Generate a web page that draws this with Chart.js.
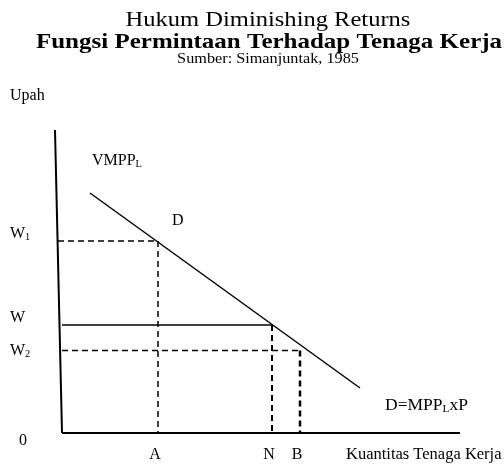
<!DOCTYPE html>
<html>
<head>
<meta charset="utf-8">
<script src="https://cdn.jsdelivr.net/npm/chart.js@4.4.1/dist/chart.umd.min.js"></script>
<style>
  html, body { margin: 0; padding: 0; background: #fff; }
  canvas { display: block; }
</style>
</head>
<body>
<canvas id="chart" width="504" height="466"></canvas>
<script>
// --------------------------- Data

const wage_labels = ['W1', 'W', 'W2'];        // rendered with subscripts
const wage_values = [64, 36, 27.5];
const qty_labels = ['A', 'N', 'B'];
const qty_values = [24, 52.5, 59.5];

const demand_x = [7, 74.5];                   // VMPP_L / D line, start and end
const demand_y = [80, 15];

const axis_x_end = 99.5;
const axis_y_top = 101;

const FONT = '"Liberation Serif", "Times New Roman", serif';

// --------------------------- Datasets

function seg(xs, ys) {
    return xs.map((x, i) => ({ x: x, y: ys[i] }));
}

const line_style = { borderColor: '#000', pointRadius: 0, showLine: true, fill: false, clip: false, tension: 0 };

const datasets = [
    // axes
    { ...line_style, data: seg([-1.75, 0], [axis_y_top, 0]), borderWidth: 2 },
    { ...line_style, data: seg([0, axis_x_end], [0, 0]), borderWidth: 2 },
    // demand curve
    { ...line_style, data: seg(demand_x, demand_y), borderWidth: 1.5 },
    // W1 -> A (dashed)
    { ...line_style, data: seg([-1, qty_values[0], qty_values[0]], [wage_values[0], wage_values[0], 0]), borderWidth: 1.5, borderDash: [6, 4] },
    // W -> N (solid horizontal, dashed vertical)
    { ...line_style, data: seg([0, qty_values[1]], [wage_values[1], wage_values[1]]), borderWidth: 1.5 },
    { ...line_style, data: seg([qty_values[1], qty_values[1]], [wage_values[1], 0]), borderWidth: 2, borderDash: [6, 4] },
    // W2 -> B (dashed)
    { ...line_style, data: seg([0, qty_values[2]], [wage_values[2], wage_values[2]]), borderWidth: 1.5, borderDash: [6, 4] },
    { ...line_style, data: seg([qty_values[2], qty_values[2]], [wage_values[2], 0]), borderWidth: 2.5, borderDash: [6, 4] },
];

// --------------------------- Text plugin

// parts: [[text, isSub], ...]
function drawParts(ctx, parts, x, y, size) {
    let cx = x;
    parts.forEach(p => {
        ctx.font = (p[1] ? size * 0.65 : size) + 'px ' + FONT;
        ctx.fillText(p[0], cx, p[1] ? y + size * 0.22 : y);
        cx += ctx.measureText(p[0]).width;
    });
}

// the scanned titles are a bit wider than they are tall
function fillWide(ctx, text, x, y, sx) {
    ctx.save();
    ctx.translate(x, y);
    ctx.scale(sx, 1);
    ctx.fillText(text, 0, 0);
    ctx.restore();
}

function wageParts(label) {
    if (label.length > 1) return [[label[0], false], [label.slice(1), true]];
    return [[label, false]];
}

const wage_label_dy = [-7, -7, 0];    // label offsets against their lines, as in the drawing

const textPlugin = {
    id: 'diagramText',
    afterDraw(chart) {
        const ctx = chart.ctx;
        const xs = chart.scales.x, ys = chart.scales.y;
        const y0 = ys.getPixelForValue(0);
        ctx.save();
        ctx.fillStyle = '#000';

        // titles
        ctx.textAlign = 'center';
        ctx.textBaseline = 'alphabetic';
        ctx.font = '22px ' + FONT;
        fillWide(ctx, 'Hukum Diminishing Returns', 268, 26, 1.115);
        ctx.font = 'bold 22px ' + FONT;
        fillWide(ctx, 'Fungsi Permintaan Terhadap Tenaga Kerja', 269, 48, 1.136);
        ctx.font = '14.5px ' + FONT;
        fillWide(ctx, 'Sumber: Simanjuntak, 1985', 268, 63, 1.12);

        ctx.textBaseline = 'middle';
        ctx.textAlign = 'left';
        ctx.font = '16px ' + FONT;
        ctx.fillText('Upah', 10, 96);

        // wage ticks
        wage_labels.forEach((lab, i) => {
            drawParts(ctx, wageParts(lab), 10, ys.getPixelForValue(wage_values[i]) + wage_label_dy[i], 16);
        });
        ctx.textAlign = 'center';
        ctx.font = '16px ' + FONT;
        ctx.fillText('0', 23, y0 + 8);

        // quantity ticks
        qty_labels.forEach((lab, i) => {
            ctx.fillText(lab, xs.getPixelForValue(qty_values[i]) - 3, y0 + 22);
        });
        ctx.textAlign = 'left';
        ctx.font = '16.5px ' + FONT;
        ctx.fillText('Kuantitas Tenaga Kerja', 346, y0 + 22);

        // curve labels
        drawParts(ctx, [['VMPP', false], ['L', true]], 92, 161, 16);
        ctx.font = '16px ' + FONT;
        ctx.fillText('D', 172, 221);
        drawParts(ctx, [['D=MPP', false], ['L', true], ['xP', false]], 385, 405, 17.5);

        ctx.restore();
    }
};

// --------------------------- Chart

const config = {
    type: 'scatter',
    data: { datasets: datasets },
    options: {
        responsive: false,
        animation: false,
        layout: { padding: { left: 62, right: 42, top: 133, bottom: 33 } },
        scales: {
            x: { type: 'linear', min: 0, max: 100, display: false },
            y: { type: 'linear', min: 0, max: 100, display: false },
        },
        plugins: {
            legend: { display: false },
            tooltip: { enabled: false },
        },
    },
    plugins: [textPlugin],
};

const main_chart = new Chart(document.getElementById('chart'), config);
</script>
</body>
</html>
